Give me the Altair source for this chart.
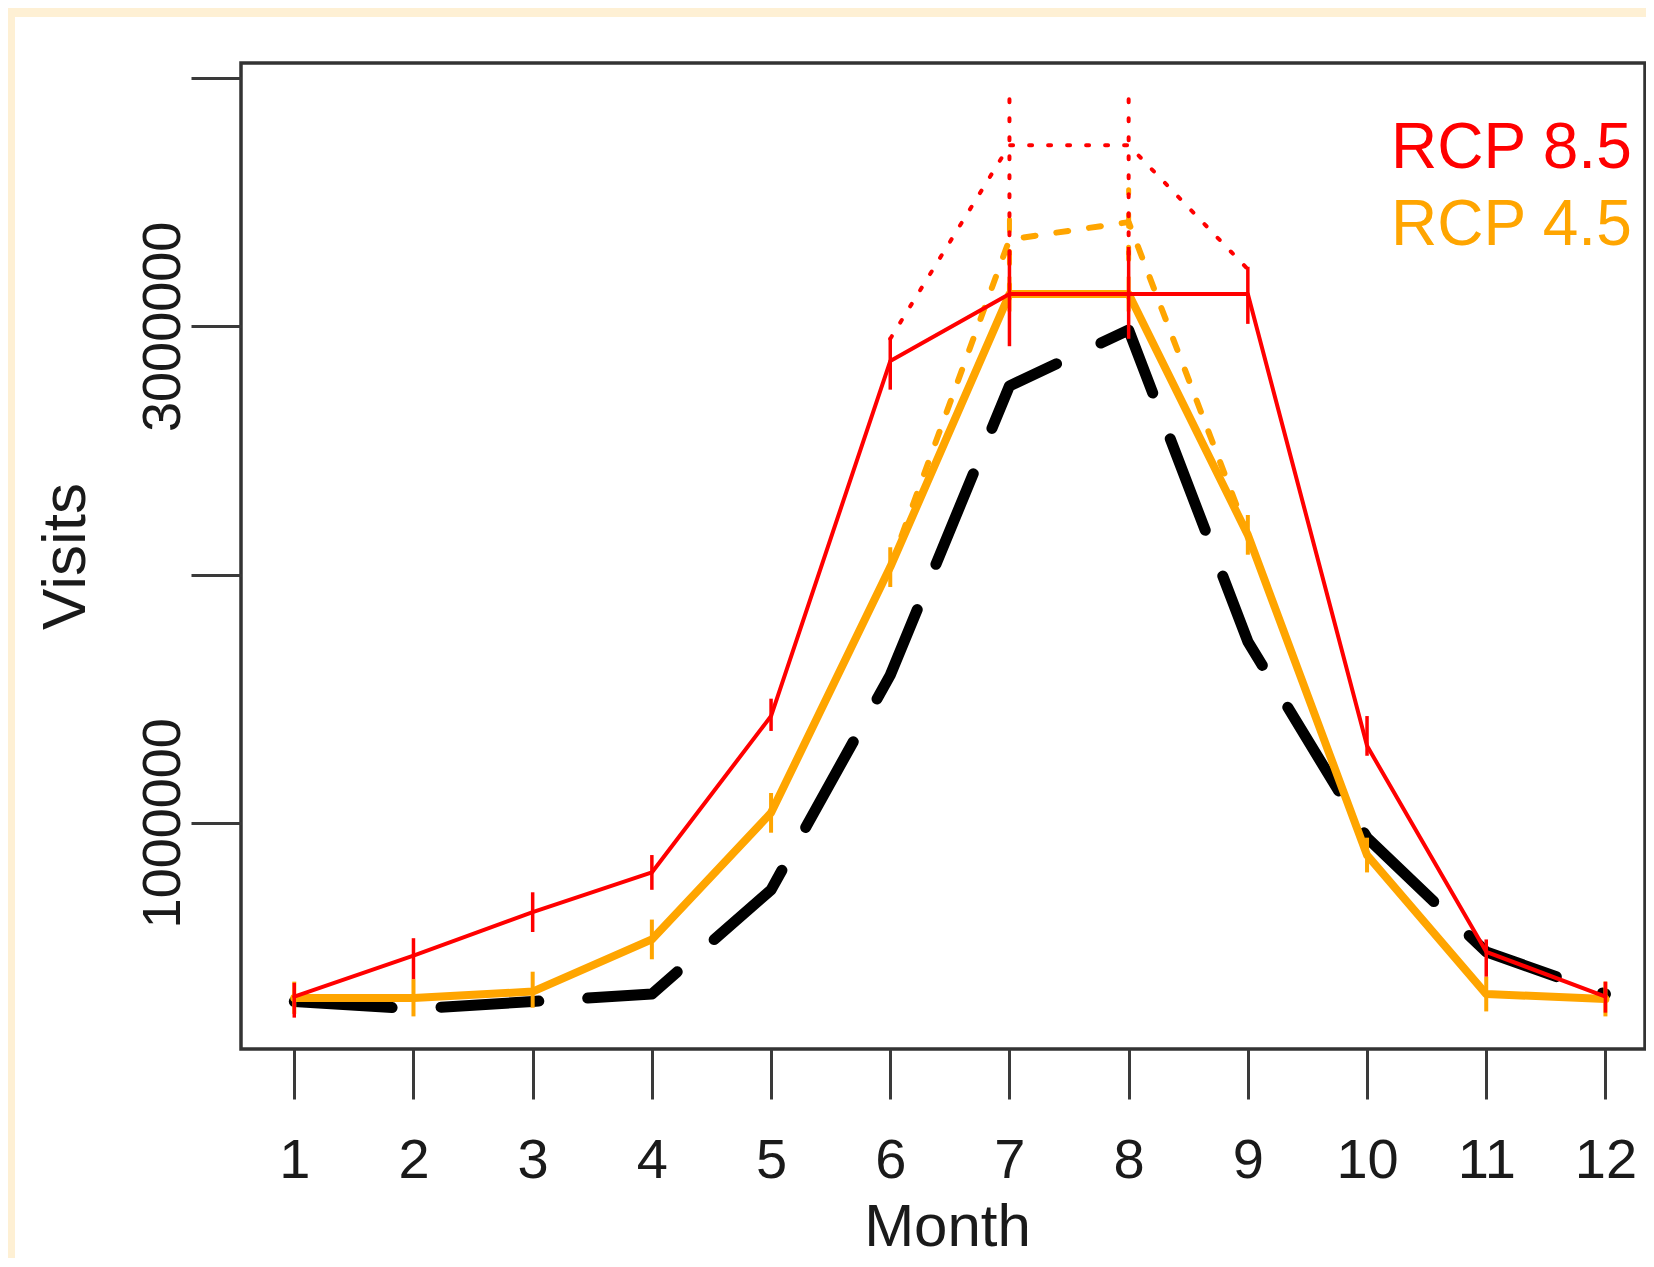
import altair as alt
import pandas as pd

# ---------------- data ----------------
months = list(range(1, 13))
baseline_visits = [280000, 250000, 280000, 310000, 730000, 1595000,
                   2760000, 2985000, 1730000, 940000, 480000, 310000]

rcp45 = [294000, 294000, 320000, 530000, 1040000, 2030000,
         3130000, 3130000, 2160000, 870000, 310000, 290000]
rcp45_lo = [230000, 220000, 255000, 450000, 960000, 1950000,
            3060000, 3060000, 2080000, 800000, 240000, 220000]
rcp45_hi = [360000, 370000, 400000, 610000, 1120000, 2110000,
            3200000, 3200000, 2240000, 940000, 380000, 360000]

rcp85 = [300000, 465000, 640000, 800000, 1430000, 2860000,
         3130000, 3130000, 3130000, 1310000, 480000, 300000]
rcp85_lo = [215000, 370000, 560000, 730000, 1370000, 2745000,
            2920000, 2950000, 3010000, 1270000, 380000, 235000]
rcp85_hi = [355000, 535000, 720000, 870000, 1500000, 2955000,
            3290000, 3320000, 3240000, 1430000, 530000, 360000]

# unconstrained peak-season projections
peak_months = [6, 7, 8, 9]
rcp85_unc = [2950000, 3730000, 3730000, 3230000]
rcp45_unc = [2030000, 3350000, 3420000, 2160000]

unc_err_months = [7, 8]
rcp85_unc_lo = [3290000, 3290000]
rcp85_unc_hi = [3930000, 3930000]
rcp45_unc_lo = [3120000, 3270000]
rcp45_unc_hi = [3430000, 3550000]

legend_labels = ["RCP 8.5", "RCP 4.5"]
legend_colors = ["#FF0000", "#FFA500"]

x_ticks = months
y_ticks = [1000000, 2000000, 3000000, 4000000]

# ---------------- layout ----------------
FONT = "Liberation Sans"
W, H = 1404, 986
PAD_L, PAD_T = 233, 55
CANVAS_W, CANVAS_H = 1638, 1250
PAD_R = CANVAS_W - PAD_L - W
PAD_B = CANVAS_H - PAD_T - H
CREAM = "#FEF0D4"

x_scale = alt.Scale(domain=[0.553, 12.332], nice=False, zero=False)
y_scale = alt.Scale(domain=[88600, 4061000], nice=False, zero=False)

x_axis = alt.Axis(values=x_ticks, tickSize=50, tickWidth=3, tickColor="#3a3a3a",
                  labelFontSize=56, labelFont=FONT, labelColor="#1a1a1a",
                  labelPadding=78, labelBaseline="alphabetic", labelFlush=False,
                  labelOverlap=False, labelLimit=0, domain=False, grid=False,
                  titleFontSize=60, titleFont=FONT, titleFontWeight="normal",
                  titleColor="#1a1a1a", titleX=706, titleY=196,
                  titleBaseline="alphabetic", titleAlign="center", zindex=1)
y_axis = alt.Axis(values=y_ticks, tickSize=50, tickWidth=3, tickColor="#3a3a3a",
                  labelFontSize=54, labelFont=FONT, labelColor="#1a1a1a",
                  labelAngle=270, labelAlign="center", labelBaseline="alphabetic",
                  labelPadding=12, labelFlush=False, labelOverlap=False, labelLimit=0,
                  labelExpr="(datum.value == 1000000 || datum.value == 3000000) ? format(datum.value, 'd') : ''",
                  domain=False, grid=False,
                  titleFontSize=62, titleFont=FONT, titleFontWeight="normal",
                  titleColor="#1a1a1a", titleAngle=270, titleX=-157, titleY=493,
                  titleBaseline="alphabetic", titleAlign="center", zindex=1)

X = alt.X("month:Q", scale=x_scale, axis=x_axis, title="Month")


def Y(field):
    return alt.Y(f"{field}:Q", scale=y_scale, axis=y_axis, title="Visits")


df = pd.DataFrame({
    "month": months,
    "base": baseline_visits,
    "r45": rcp45, "r45lo": rcp45_lo, "r45hi": rcp45_hi,
    "r85": rcp85, "r85lo": rcp85_lo, "r85hi": rcp85_hi,
})
df_peak = pd.DataFrame({"month": peak_months, "r85u": rcp85_unc, "r45u": rcp45_unc})
df_uerr = pd.DataFrame({"month": unc_err_months,
                        "r85ulo": rcp85_unc_lo, "r85uhi": rcp85_unc_hi,
                        "r45ulo": rcp45_unc_lo, "r45uhi": rcp45_unc_hi})
df_dummy = pd.DataFrame({"k": [0]})

# cream frame strips (left and top) outside the plot area
strip_left = alt.Chart(df_dummy).mark_rect(color=CREAM).encode(
    x=alt.value(-PAD_L), x2=alt.value(-PAD_L + 7),
    y=alt.value(-PAD_T), y2=alt.value(H + PAD_B))
strip_top = alt.Chart(df_dummy).mark_rect(color=CREAM).encode(
    x=alt.value(-PAD_L), x2=alt.value(W + PAD_R),
    y=alt.value(-PAD_T), y2=alt.value(-PAD_T + 9))

line_kw = dict(strokeCap="round", strokeJoin="round")

base_line = alt.Chart(df).mark_line(color="black", strokeWidth=11,
                                    strokeDash=[98, 49], **line_kw).encode(x=X, y=Y("base"))

r45_line = alt.Chart(df).mark_line(color="#FFA500", strokeWidth=8, **line_kw).encode(x=X, y=Y("r45"))
r45_err = alt.Chart(df).mark_rule(color="#FFA500", strokeWidth=4).encode(
    x=X, y=Y("r45lo"), y2="r45hi:Q")

r45u_line = alt.Chart(df_peak).mark_line(color="#FFA500", strokeWidth=6,
                                         strokeDash=[12, 21], **line_kw).encode(x=X, y=Y("r45u"))
r45u_err = alt.Chart(df_uerr).mark_rule(color="#FFA500", strokeWidth=5,
                                        strokeDash=[12, 21], strokeCap="round").encode(
    x=X, y=Y("r45ulo"), y2="r45uhi:Q")

r85_line = alt.Chart(df).mark_line(color="#FF0000", strokeWidth=4, **line_kw).encode(x=X, y=Y("r85"))
r85_err = alt.Chart(df).mark_rule(color="#FF0000", strokeWidth=3.5).encode(
    x=X, y=Y("r85lo"), y2="r85hi:Q")

r85u_line = alt.Chart(df_peak).mark_line(color="#FF0000", strokeWidth=4,
                                         strokeDash=[3, 16], **line_kw).encode(x=X, y=Y("r85u"))
r85u_err = alt.Chart(df_uerr).mark_rule(color="#FF0000", strokeWidth=4,
                                        strokeDash=[3, 16], strokeCap="round").encode(
    x=X, y=Y("r85ulo"), y2="r85uhi:Q")

leg85 = alt.Chart(df_dummy).mark_text(text=legend_labels[0], color=legend_colors[0],
                                      font=FONT, fontSize=64, align="left",
                                      baseline="alphabetic").encode(
    x=alt.value(1150), y=alt.value(105))
leg45 = alt.Chart(df_dummy).mark_text(text=legend_labels[1], color=legend_colors[1],
                                      font=FONT, fontSize=64, align="left",
                                      baseline="alphabetic").encode(
    x=alt.value(1150), y=alt.value(182))

chart = alt.layer(
    strip_left, strip_top,
    base_line, r45u_line, r45u_err, r45_line, r45_err,
    r85u_line, r85u_err, r85_line, r85_err,
    leg85, leg45,
).properties(
    width=W, height=H,
    autosize=alt.AutoSizeParams(type="none"),
    padding={"left": PAD_L, "top": PAD_T, "right": PAD_R, "bottom": PAD_B},
    background="white",
).configure_view(
    stroke="#333333", strokeWidth=3.5, fill="white"
)

chart.save("out.html", embed_options={"renderer": "svg", "actions": False})
